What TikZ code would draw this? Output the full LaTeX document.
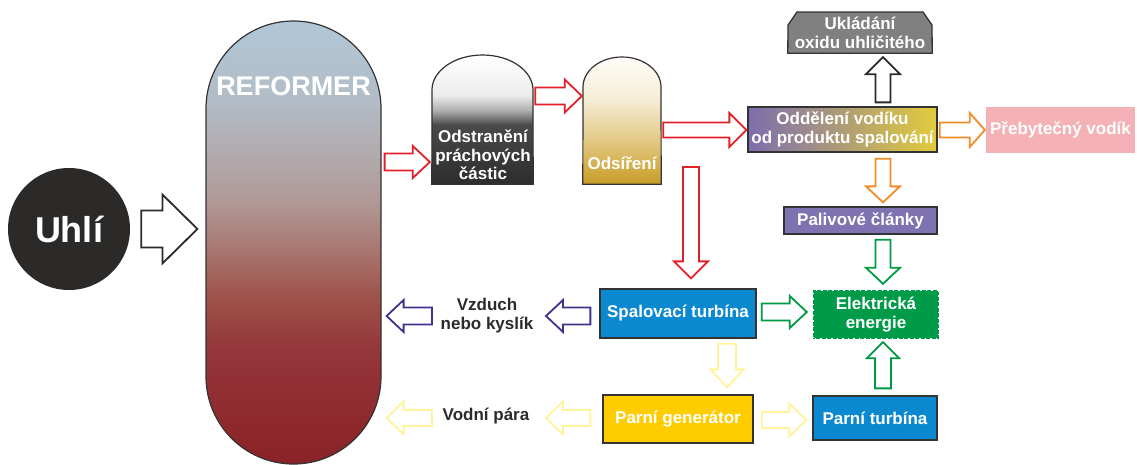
\documentclass[tikz,border=0pt]{standalone}
\usepackage{fontspec}
\setmainfont{Liberation Sans}
\usetikzlibrary{calc}
\definecolor{blk}{HTML}{2B2A29}
\definecolor{redA}{HTML}{E3202A}
\definecolor{orangeA}{HTML}{F28C28}
\definecolor{greenA}{HTML}{009A44}
\definecolor{yellowA}{HTML}{FFF49A}
\definecolor{blueA}{HTML}{3C3391}
\definecolor{boxline}{HTML}{333333}
\definecolor{combblue}{HTML}{0A89D1}
\definecolor{genyellow}{HTML}{FFCC00}
\definecolor{elecgreen}{HTML}{009B48}
\definecolor{fuelpurple}{HTML}{7E72B1}
\definecolor{excesspink}{HTML}{F4B2B6}
\definecolor{storagegray}{HTML}{808080}
\definecolor{sepL}{HTML}{7C6DAE}
\definecolor{sepR}{HTML}{E2CC3C}
\definecolor{darktext}{HTML}{2B2B2B}
% reformer gradient
\definecolor{ref0}{HTML}{B0C7D7}
\definecolor{ref1}{HTML}{B2BCC6}
\definecolor{refA}{HTML}{B19A98}
\definecolor{refB}{HTML}{A87670}
\definecolor{refC}{HTML}{9E5049}
\definecolor{refD}{HTML}{94363A}
\definecolor{refE}{HTML}{8A2227}
\pgfdeclareverticalshading{refshade}{100bp}{color(0bp)=(refE); color(25bp)=(refE); color(37.9bp)=(refD); color(43.5bp)=(refC); color(49.2bp)=(refB); color(54.8bp)=(refA); color(66bp)=(ref1); color(75bp)=(ref0); color(100bp)=(ref0)}
% dust vessel gradient
\definecolor{dust0}{HTML}{FFFFFF}
\definecolor{dust1}{HTML}{EDEDED}
\definecolor{dust2}{HTML}{B0B0B0}
\definecolor{dust3}{HTML}{4A4A4A}
\definecolor{dust4}{HTML}{2C2C2C}
\pgfdeclareverticalshading{dustshade}{100bp}{color(0bp)=(dust4); color(25bp)=(dust4); color(48bp)=(dust3); color(53.7bp)=(dust2); color(59.5bp)=(dust1); color(75bp)=(dust0); color(100bp)=(dust0)}
% sulphur vessel gradient
\definecolor{sul0}{HTML}{FFFDF8}
\definecolor{sul1}{HTML}{F5ECD5}
\definecolor{sul2}{HTML}{E3C985}
\definecolor{sul3}{HTML}{C89D26}
\pgfdeclareverticalshading{sulshade}{100bp}{color(0bp)=(sul3); color(25bp)=(sul3); color(42.3bp)=(sul2); color(58bp)=(sul1); color(75bp)=(sul0); color(100bp)=(sul0)}

\newcommand\lbl{\bfseries\fontsize{17}{19.5}\selectfont}
% block arrow: style, from, to, shaft half width, head half width, head length
\newcommand\barrow[6]{%
\draw[#1] let \p1=#2, \p2=#3, \n1={veclen(\x2-\x1,\y2-\y1)}, \n2={(\x2-\x1)/\n1}, \n3={(\y2-\y1)/\n1}, \n4={\n1-#6} in
 ({\x1+#4*\n3},{\y1-#4*\n2}) -- ({\x1+\n4*\n2+#4*\n3},{\y1+\n4*\n3-#4*\n2}) -- ({\x1+\n4*\n2+#5*\n3},{\y1+\n4*\n3-#5*\n2}) -- (\p2) -- ({\x1+\n4*\n2-#5*\n3},{\y1+\n4*\n3+#5*\n2}) -- ({\x1+\n4*\n2-#4*\n3},{\y1+\n4*\n3+#4*\n2}) -- ({\x1-#4*\n3},{\y1+#4*\n2}) -- cycle;}

\tikzset{
  box/.style={draw=boxline, line width=1.3pt, text=white, font=\lbl, align=center, inner sep=0pt},
  barr/.style={line width=1.8pt, fill=white, line join=miter},
  plain/.style={font=\lbl, align=center, inner sep=0pt},
}

\begin{document}
\begin{tikzpicture}[x=1pt, y=-1pt]
\useasboundingbox (0,0) rectangle (1137,464);

% coal
\node[circle, fill=blk, minimum size=122pt, inner sep=0pt, text=white, font=\bfseries\fontsize{36}{40}\selectfont] (coal) at (69,229) {Uhlí};

% reformer
\node[draw=boxline, line width=1.2pt, rounded corners=87.5pt, shading=refshade, minimum width=175pt, minimum height=443pt, inner sep=0pt] (reformer) at (293.5,242.5) {};
\node[plain, text=white, font=\bfseries\fontsize{27}{30}\selectfont] (reftext) at (293.5,86) {REFORMER};

% dust removal vessel
\node[minimum width=101pt, minimum height=129pt, inner sep=0pt] (dustv) at (482.5,119.5) {};
\draw[draw=boxline, line width=1.2pt, shading=dustshade] (dustv.south west) -- (432,90) arc[start angle=180, end angle=360, x radius=50.5, y radius=35] -- (dustv.south east) -- cycle;
\node[plain, text=white, font=\bfseries\fontsize{17}{18.5}\selectfont] (dustt) at (483,155) {Odstranění\\práchových\\částic};

% desulphurisation vessel
\node[minimum width=78pt, minimum height=127pt, inner sep=0pt] (sulfv) at (622,120.5) {};
\draw[draw=boxline, line width=1.2pt, shading=sulshade] (sulfv.south west) -- (583,87) arc[start angle=180, end angle=360, x radius=39, y radius=30] -- (sulfv.south east) -- cycle;
\node[plain, text=white] (sulft) at (622,163) {Odsíření};

% boxes
\node[box, left color=sepL, right color=sepR, minimum width=189pt, minimum height=45pt] (sep) at (842.5,129.5) {Oddělení vodíku\\od produktu spalování};
\node[plain, fill=excesspink, text=white, minimum width=149pt, minimum height=46pt] (excess) at (1060.5,130) {Přebytečný vodík};
\node[minimum width=144pt, minimum height=41pt, inner sep=0pt] (storage) at (860,32.5) {};
\draw[draw=boxline, line width=1.3pt, fill=storagegray] (storage.south west) -- (788,25) -- (797,12) -- (923,12) -- (932,25) -- (storage.south east) -- cycle;
\node[plain, text=white, font=\bfseries\fontsize{17}{19}\selectfont] at (storage.center) {Ukládání\\oxidu uhličitého};
\node[box, fill=fuelpurple, minimum width=153pt, minimum height=27pt] (fuel) at (860.5,220.5) {Palivové články};
\node[plain, fill=elecgreen, text=white, minimum width=126pt, minimum height=49pt] (elec) at (876,314.5) {Elektrická\\energie};
\draw[white, line width=1pt, dash pattern=on 1.5pt off 4pt] ($(elec.south west)+(1,-1)$) rectangle ($(elec.north east)+(-1,1)$);
\node[box, fill=combblue, minimum width=156pt, minimum height=49pt] (comb) at (678,313.5) {Spalovací turbína};
\node[box, fill=genyellow, minimum width=150pt, minimum height=48pt] (gen) at (678,419) {Parní generátor};
\node[box, fill=combblue, minimum width=124pt, minimum height=44pt] (steamturb) at (875,418) {Parní turbína};
\node[plain, text=darktext, font=\bfseries\fontsize{17}{19}\selectfont] (air) at (487,316) {Vzduch\\nebo kyslík};
\node[plain, text=darktext] (steam) at (486,416) {Vodní pára};

\coordinate (redtop) at (691,167);

% arrows
\barrow{barr, draw=blk}{($(coal.east)+(11,0)$)}{($(reformer.west |- coal)+(-8,0)$)}{18.5}{34.5}{35}
\barrow{barr, draw=redA}{($(reformer.east |- dustv.west)+(3,42.5)$)}{($(dustv.west)+(-2,42.5)$)}{8.5}{16}{17}
\barrow{barr, draw=redA}{($(dustv.east)+(2,-23.5)$)}{($(sulfv.west)+(-1,-24.5)$)}{8.5}{16.5}{17}
\barrow{barr, draw=redA}{($(sulfv.east)+(2,9.5)$)}{($(sep.west)+(-1,0.5)$)}{7.5}{17}{17}
\barrow{barr, draw=orangeA}{($(sep.east)+(2,0.5)$)}{($(excess.west)+(-1,0)$)}{7.5}{17}{15}
\barrow{barr, draw=blk}{($(sep.north)+(40.5,-4)$)}{($(storage.south)+(23,4)$)}{7.5}{17}{17}
\barrow{barr, draw=orangeA}{($(sep.south)+(40.5,6)$)}{($(fuel.north)+(22.5,-4)$)}{7.5}{17}{16}
\barrow{barr, draw=greenA}{($(fuel.south)+(22.5,5)$)}{($(elec.north)+(7,-6)$)}{7.5}{17}{16}
\barrow{barr, draw=greenA}{($(steamturb.north)+(8,-7)$)}{($(elec.south)+(7,3)$)}{8}{16}{16}
\barrow{barr, draw=greenA}{($(comb.east)+(5,-1.5)$)}{($(elec.west)+(-6,-2.5)$)}{8.5}{16}{17}
\barrow{barr, draw=yellowA}{($(gen.east)+(8,1)$)}{($(steamturb.west)+(-6,2)$)}{8}{16.5}{17}
\barrow{barr, draw=redA}{(redtop)}{($(comb.north)+(13,-10)$)}{8}{17}{17}
\barrow{barr, draw=yellowA}{($(comb.south)+(49,5)$)}{($(gen.north)+(49,-7)$)}{9}{16.5}{18}
\barrow{barr, draw=blueA}{($(comb.west)+(-9,2.5)$)}{($(air.center)+(59,0)$)}{8.5}{16}{17}
\barrow{barr, draw=blueA}{($(air.center)+(-55,0)$)}{($(reformer.east |- air.center)+(5,0)$)}{8.5}{16}{17}
\barrow{barr, draw=yellowA}{($(gen.west)+(-12,-1)$)}{($(steam.center)+(60,2)$)}{8}{16.5}{17}
\barrow{barr, draw=yellowA}{($(steam.center)+(-54,2)$)}{($(reformer.east |- steam.center)+(5,2)$)}{8}{16.5}{17}
\end{tikzpicture}
\end{document}
